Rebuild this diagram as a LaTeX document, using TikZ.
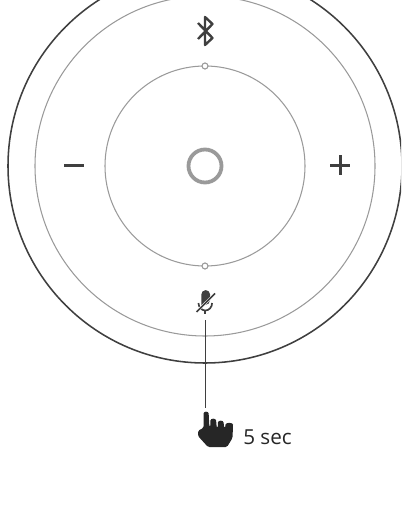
\documentclass[tikz,border=0pt]{standalone}
\usepackage{fontspec}
\setmainfont{Open Sans}
\usetikzlibrary{positioning}
\definecolor{darkline}{HTML}{3F3F3F}
\definecolor{ringgray}{HTML}{9A9A9A}

\begin{document}
\begin{tikzpicture}[
  x=0.025cm, y=-0.025cm, line join=round,
  ring/.style={draw=ringgray, line width=0.75pt},
  glyph/.style={draw=darkline, line width=1.8pt},
  dot/.style={circle, draw=ringgray, fill=white, line width=0.8pt, minimum size=0.15cm, inner sep=0pt},
  anchorbox/.style={minimum width=0.75cm, minimum height=0.9cm, inner sep=0pt},
]
\useasboundingbox (0,0) rectangle (401,524);
\clip (0,0) rectangle (401,524);

\coordinate (ctr) at (205,166);
\draw[draw=darkline, line width=1.1pt] (ctr) circle [radius=197];
\draw[ring] (ctr) circle [radius=170];
\draw[ring] (ctr) circle [radius=100];
\draw[draw=ringgray, line width=2.7pt] (ctr) circle [radius=16.5];

\node[dot] (top) at (205,66) {};
\node[dot] (bot) at (205,266) {};

% bluetooth
\draw[draw=darkline, line width=1.7pt, line cap=butt]
  (198,23) -- (212.5,38) -- (205,45) -- (205,17) -- (212.5,24) -- (198,39);

% minus, plus
\draw[glyph] (64,165.5) -- (84,165.5);
\draw[glyph] (330,165.5) -- (350,165.5) (340.5,155.5) -- (340.5,175.5);

% mic
\node[anchorbox] (mic) at (205,302) {};
\fill[darkline] (201.3,305) -- (201.3,294.5) arc [start angle=180, end angle=360, radius=4.4] -- (210.1,300)
  arc [start angle=0, end angle=90, radius=5] -- cycle;
\draw[draw=darkline, line width=1.2pt] (198.5,303) arc [start angle=180, end angle=0, x radius=6.8, y radius=7.5];
\draw[draw=white, line width=1.8pt] (194,314) -- (217,292);
\draw[draw=darkline, line width=1.2pt] (196.5,312) -- (215,293.5);
\draw[draw=darkline, line width=1.4pt] (205.3,310.5) -- (205.3,314);

% hand
\node[anchorbox, minimum width=0.9cm, minimum height=1.0cm] (hand) at (215,428) {};
\fill[black!85, rounded corners=1pt]
  (203.5,428) -- (203.5,415) .. controls (203.5,411) and (208.7,411) .. (208.7,415)
  -- (209.4,427) -- (210.3,427) -- (210.3,422) .. controls (210.5,418) and (216,418) .. (216.2,422)
  -- (216.8,428) -- (217.8,428) -- (217.8,424) .. controls (218,420) and (223.5,420) .. (223.7,424)
  -- (224.2,428) -- (225.2,428) -- (225.2,426) .. controls (226,422) and (233,422.5) .. (233,426)
  -- (232.5,438) -- (227,447) -- (208,447) -- (198,436) -- (198,431) -- (201,429) -- cycle;

\node[anchor=base west, inner sep=0pt, font=\fontsize{14.7}{18}\selectfont, text=black!85] (sec) at (243,444.5) {5 sec};

\draw[draw=darkline, line width=0.7pt] (mic.south) -- (mic.south |- hand.north);
\end{tikzpicture}
\end{document}
